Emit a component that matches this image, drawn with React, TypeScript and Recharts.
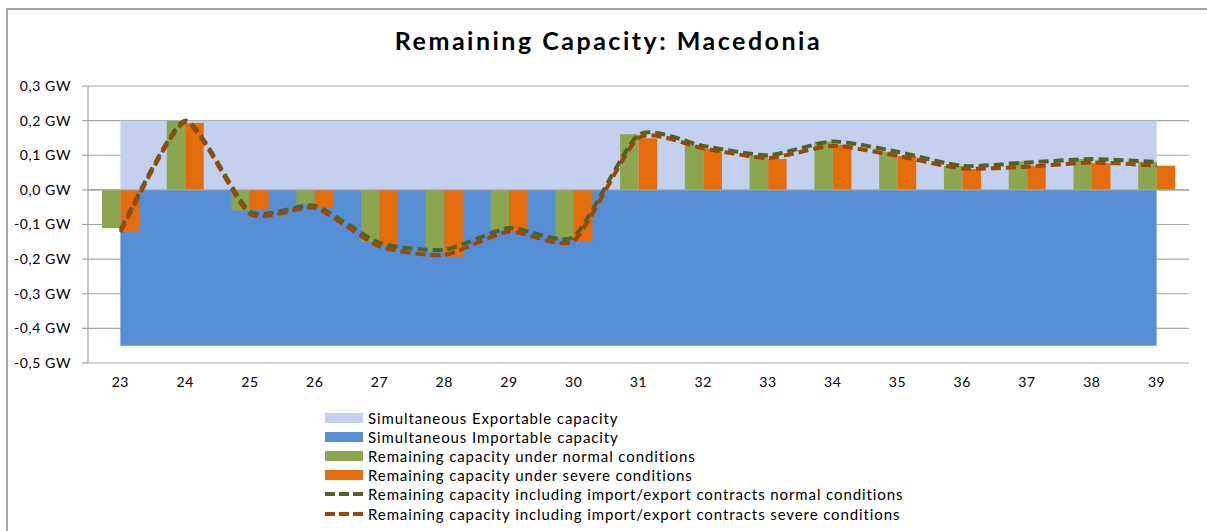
import React from 'react';
import {
  ComposedChart,
  Area,
  Bar,
  Line,
  XAxis,
  YAxis,
  CartesianGrid,
  ReferenceLine,
} from 'recharts';

const weeks = ['23', '24', '25', '26', '27', '28', '29', '30', '31', '32', '33', '34', '35', '36', '37', '38', '39'];
const exportable = [0.2, 0.2, 0.2, 0.2, 0.2, 0.2, 0.2, 0.2, 0.2, 0.2, 0.2, 0.2, 0.2, 0.2, 0.2, 0.2, 0.2];
const importable = [-0.45, -0.45, -0.45, -0.45, -0.45, -0.45, -0.45, -0.45, -0.45, -0.45, -0.45, -0.45, -0.45, -0.45, -0.45, -0.45, -0.45];
const normalBars = [-0.11, 0.2, -0.06, -0.04, -0.15, -0.178, -0.114, -0.14, 0.161, 0.13, 0.099, 0.14, 0.11, 0.069, 0.082, 0.089, 0.081];
const severeBars = [-0.12, 0.193, -0.058, -0.05, -0.16, -0.193, -0.12, -0.15, 0.149, 0.118, 0.089, 0.13, 0.098, 0.06, 0.07, 0.077, 0.07];
const normalLine = [-0.115, 0.2, -0.063, -0.046, -0.153, -0.173, -0.11, -0.135, 0.159, 0.127, 0.1, 0.14, 0.11, 0.069, 0.079, 0.089, 0.081];
const severeLine = [-0.122, 0.195, -0.07, -0.052, -0.163, -0.188, -0.12, -0.147, 0.15, 0.12, 0.092, 0.127, 0.098, 0.062, 0.067, 0.079, 0.07];
const yTicks = [-0.5, -0.4, -0.3, -0.2, -0.1, 0, 0.1, 0.2, 0.3];

const seriesNames = [
  'Simultaneous Exportable capacity',
  'Simultaneous Importable capacity',
  'Remaining capacity under normal conditions',
  'Remaining capacity under severe conditions',
  'Remaining capacity including import/export contracts normal conditions',
  'Remaining capacity including import/export contracts severe conditions',
];

const C_EXPORT = '#c3d1ee';
const C_IMPORT = '#558ed5';
const C_NORMAL = '#8aa64e';
const C_SEVERE = '#e46c0a';
const C_NLINE = '#4f6228';
const C_SLINE = '#984807';

const data = weeks.map((w, i) => ({
  week: w,
  exportable: exportable[i],
  importable: importable[i],
  normal: normalBars[i],
  severe: severeBars[i],
  normalLine: normalLine[i],
  severeLine: severeLine[i],
}));

const FONT = 'Lato, "Open Sans", sans-serif';

const fmt = (v: number) => {
  const s = Math.abs(v) < 1e-9 ? '0.0' : v.toFixed(1);
  return s.replace('.', ',') + ' GW';
};

// Lightly smoothed line (Catmull-Rom-like Bezier with low tension)
const SMOOTH = 1 / 10;
const smoothCurve: any = (context: any) => {
  let pts: [number, number][] = [];
  return {
    areaStart() {},
    areaEnd() {},
    lineStart() {
      pts = [];
    },
    lineEnd() {
      const n = pts.length;
      if (n === 0) return;
      context.moveTo(pts[0][0], pts[0][1]);
      for (let i = 0; i < n - 1; i++) {
        const p0 = pts[Math.max(0, i - 1)];
        const p1 = pts[i];
        const p2 = pts[i + 1];
        const p3 = pts[Math.min(n - 1, i + 2)];
        const c1x = p1[0] + (p2[0] - p0[0]) * SMOOTH;
        const c1y = p1[1] + (p2[1] - p0[1]) * SMOOTH;
        const c2x = p2[0] - (p3[0] - p1[0]) * SMOOTH;
        const c2y = p2[1] - (p3[1] - p1[1]) * SMOOTH;
        context.bezierCurveTo(c1x, c1y, c2x, c2y, p2[0], p2[1]);
      }
    },
    point(x: number, y: number) {
      pts.push([+x, +y]);
    },
  };
};

const legendItems = [
  { name: seriesNames[0], color: C_EXPORT, dashed: false },
  { name: seriesNames[1], color: C_IMPORT, dashed: false },
  { name: seriesNames[2], color: C_NORMAL, dashed: false },
  { name: seriesNames[3], color: C_SEVERE, dashed: false },
  { name: seriesNames[4], color: C_NLINE, dashed: true },
  { name: seriesNames[5], color: C_SLINE, dashed: true },
];

const tickStyle = { fill: '#000', fontSize: 14, fontFamily: FONT, letterSpacing: 0.6 };

export default function App() {
  return (
    <div style={{ position: 'fixed', left: 0, top: 0, width: 1207, height: 531, overflow: 'hidden', background: '#fff', fontFamily: FONT }}>
      <div style={{ position: 'absolute', left: 6, top: 8, width: 1300, height: 600, borderLeft: '2px solid #a6a6a6', borderTop: '2px solid #a6a6a6' }} />
      <div style={{ position: 'absolute', left: 0, top: 25, width: 1217, textAlign: 'center', fontWeight: 700, fontSize: 25, letterSpacing: 2.5, color: '#000', fontFamily: FONT }}>
        Remaining Capacity: Macedonia
      </div>
      <div style={{ position: 'absolute', left: 0, top: 0 }}>
        <ComposedChart
          width={1207}
          height={531}
          data={data}
          margin={{ top: 86, right: 18, bottom: 146, left: 8 }}
          barGap={0}
          barSize={18.5}
        >
          <CartesianGrid vertical={false} stroke="#a6a6a6" strokeWidth={1.2} />
          <XAxis
            dataKey="week"
            axisLine={false}
            tickLine={false}
            tick={tickStyle}
            tickMargin={8}
            height={22}
          />
          <YAxis
            domain={[-0.5, 0.3]}
            ticks={yTicks}
            width={80}
            tickFormatter={fmt}
            axisLine={{ stroke: '#a6a6a6', strokeWidth: 1.2 }}
            tickLine={{ stroke: '#a6a6a6', strokeWidth: 1.2 }}
            tickSize={6}
            tickMargin={11}
            tick={tickStyle}
            allowDataOverflow
          />
          <ReferenceLine y={0} stroke="#a6a6a6" strokeWidth={1.2} />
          <Area dataKey="exportable" name={seriesNames[0]} type="linear" fill={C_EXPORT} fillOpacity={1} stroke="none" baseValue={0} isAnimationActive={false} />
          <Area dataKey="importable" name={seriesNames[1]} type="linear" fill={C_IMPORT} fillOpacity={1} stroke="none" baseValue={0} isAnimationActive={false} />
          <Bar dataKey="normal" name={seriesNames[2]} fill={C_NORMAL} isAnimationActive={false} />
          <Bar dataKey="severe" name={seriesNames[3]} fill={C_SEVERE} isAnimationActive={false} />
          <Line dataKey="normalLine" name={seriesNames[4]} type={smoothCurve} stroke={C_NLINE} strokeWidth={4} strokeDasharray="10 5" dot={false} activeDot={false} isAnimationActive={false} />
          <Line dataKey="severeLine" name={seriesNames[5]} type={smoothCurve} stroke={C_SLINE} strokeWidth={4} strokeDasharray="10 5" dot={false} activeDot={false} isAnimationActive={false} />
        </ComposedChart>
      </div>
      <div style={{ position: 'absolute', left: 325, top: 408 }}>
        {legendItems.map((it) => (
          <div key={it.name} style={{ display: 'flex', alignItems: 'center', height: 19.2 }}>
            {it.dashed ? (
              <svg width={38} height={10} style={{ marginRight: 5 }}>
                <line x1={0} y1={5} x2={38} y2={5} stroke={it.color} strokeWidth={4} strokeDasharray="10 4" />
              </svg>
            ) : (
              <div style={{ width: 38, height: 10, background: it.color, marginRight: 5 }} />
            )}
            <span style={{ fontSize: 15, letterSpacing: 0.9, color: '#000', whiteSpace: 'nowrap' }}>{it.name}</span>
          </div>
        ))}
      </div>
    </div>
  );
}
